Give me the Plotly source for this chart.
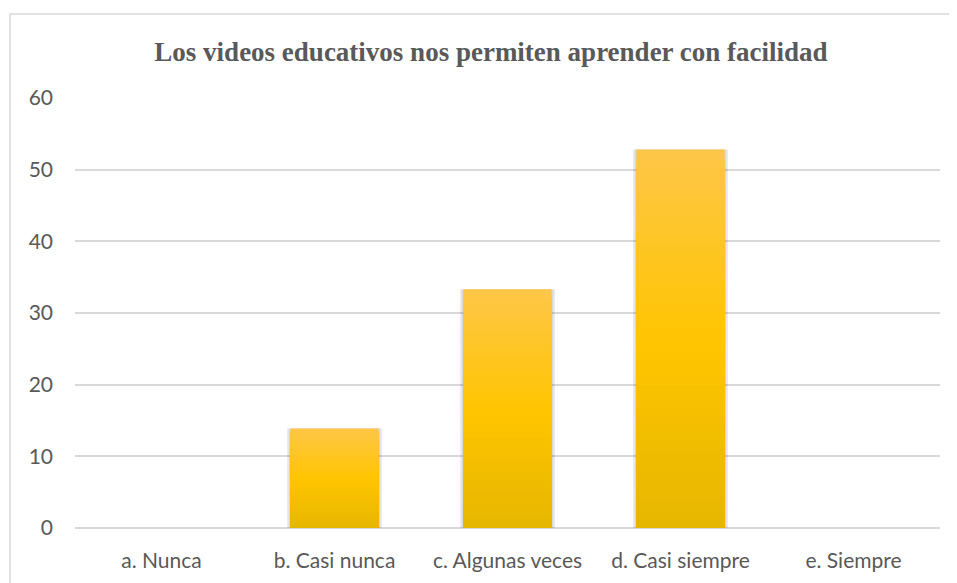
import plotly.graph_objects as go

categories = ["a. Nunca", "b. Casi nunca", "c. Algunas veces", "d. Casi siempre", "e. Siempre"]
values = [0, 13.9, 33.3, 52.8, 0]
title_text = "Los videos educativos nos permiten aprender con facilidad"
y_ticks = [0, 10, 20, 30, 40, 50, 60]

W, H = 957, 583
# page is rendered with an 8px body margin; compensate
ML, MR, MT, MB = 67, 25, 90, 63

def lerp(c1, c2, t):
    return "rgb(%d,%d,%d)" % tuple(round(a + (b - a) * t) for a, b in zip(c1, c2))

top_c = (254, 198, 70)
mid_c = (255, 197, 0)
bot_c = (229, 182, 0)

fig = go.Figure()

# soft shadow behind bars
fig.add_trace(go.Bar(x=categories, y=values, width=0.55,
                     marker=dict(color="rgba(0,0,0,0.08)", line=dict(width=0)),
                     hoverinfo="skip", showlegend=False))
fig.add_trace(go.Bar(x=categories, y=values, width=0.53,
                     marker=dict(color="rgba(0,0,0,0.08)", line=dict(width=0)),
                     hoverinfo="skip", showlegend=False))

# layered bars to emulate a vertical gradient
N = 40
for i in range(N):
    f = 1 - i / N
    if f > 0.5:
        col = lerp(mid_c, top_c, (f - 0.5) / 0.5)
    else:
        col = lerp(bot_c, mid_c, f / 0.5)
    fig.add_trace(go.Bar(x=categories, y=[v * f for v in values], width=0.51,
                         marker=dict(color=col, line=dict(width=0)),
                         hoverinfo="skip" if i else None, showlegend=False))

tick_font = dict(family="Lato, Carlito, Calibri, Open Sans, sans-serif", size=21, color="#595959")

fig.update_layout(
    width=W, height=H,
    margin=dict(l=ML, r=MR, t=MT, b=MB),
    barmode="overlay",
    plot_bgcolor="white", paper_bgcolor="white",
    title=dict(text="<b>" + title_text + "</b>", x=483 / W, xanchor="center",
               y=1 - 44 / H, yanchor="middle",
               font=dict(family="Liberation Serif, Times New Roman, serif", size=27, color="#595959")),
    font=tick_font,
    xaxis=dict(showgrid=False, showline=False, zeroline=False, ticks="",
               tickfont=tick_font, ticklabelstandoff=18),
    yaxis=dict(range=[0, 60], tickvals=y_ticks, showgrid=True, gridcolor="#d9d9d9",
               gridwidth=1.6, zeroline=True, zerolinecolor="#d9d9d9", zerolinewidth=1.8,
               showline=False, ticks="", ticklabelstandoff=21,
               tickfont=tick_font),
    shapes=[dict(type="rect", xref="paper", yref="paper",
                 x0=(2 - ML) / (W - ML - MR), x1=1.2,
                 y0=-0.3, y1=(H - MB - 6) / (H - MT - MB),
                 line=dict(color="#d9d9d9", width=1.5), fillcolor="rgba(0,0,0,0)", layer="below")],
)

fig.write_html("out.html")
